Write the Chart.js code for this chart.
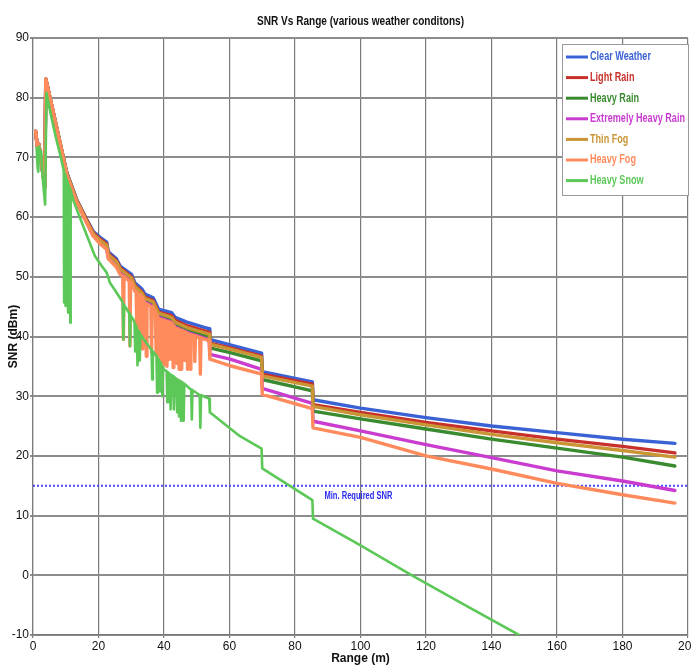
<!DOCTYPE html>
<html>
<head>
<meta charset="utf-8">
<title>SNR Vs Range</title>
<script src="https://cdn.jsdelivr.net/npm/chart.js@4.4.1/dist/chart.umd.min.js"></script>
<style>
  html, body { margin: 0; padding: 0; background: #fff; }
  #wrap { width: 691px; height: 668px; }
</style>
</head>
<body>
<div id="wrap"><canvas id="chart" width="691" height="668"></canvas></div>
<script>
const ctx = document.getElementById("chart");
const narrow = '"Liberation Sans Narrow", "Liberation Sans", Arial, sans-serif';

// shared range points (m) for the smooth curves
const rangeM = [0.8, 1.3, 1.8, 2.6, 3.6, 3.9, 6.0, 8.2, 9.6, 10.3, 13.3, 16.4, 18.4, 20.5, 22.5, 23.0, 25.5, 26.6, 30.1, 31.1, 33.2, 34.2, 36.7, 38.3, 42.3, 43.4, 47.0, 52.5, 53.8, 54.0, 60.2, 69.8, 70.0, 85.3, 85.5, 100, 120, 140, 160, 180, 196];

const clearWeather = [74.4, 71.9, 72.2, 69.0, 65.0, 83.1, 78.0, 72.6, 69.2, 67.5, 63.0, 59.6, 57.6, 56.6, 55.8, 54.2, 53.0, 51.8, 50.4, 49.0, 48.0, 47.1, 46.5, 44.6, 44.0, 43.2, 42.4, 41.5, 41.3, 39.5, 38.6, 37.2, 34.1, 32.4, 29.4, 28.0, 26.4, 25.0, 23.9, 22.8, 22.1];
const lightRain = [74.4, 71.9, 72.2, 69.0, 65.0, 83.1, 78.0, 72.6, 69.1, 67.4, 62.9, 59.5, 57.4, 56.3, 55.5, 53.9, 52.7, 51.5, 50.0, 48.6, 47.5, 46.6, 46.0, 44.1, 43.5, 42.7, 41.8, 40.9, 40.7, 38.9, 38.1, 36.7, 33.7, 32.0, 28.6, 27.3, 25.6, 24.2, 22.8, 21.6, 20.5];
const heavyRain = [74.4, 71.9, 72.2, 69.0, 65.0, 83.1, 78.0, 72.5, 69.0, 67.2, 62.7, 59.2, 57.0, 55.9, 55.0, 53.4, 52.2, 51.0, 49.5, 48.1, 47.0, 46.0, 45.4, 43.5, 42.8, 42.0, 41.1, 40.1, 39.9, 38.1, 37.3, 35.9, 32.8, 30.9, 27.5, 26.2, 24.5, 22.8, 21.3, 19.8, 18.3];
const extHeavyRain = [74.4, 71.9, 72.2, 69.0, 65.0, 83.1, 78.0, 72.5, 68.9, 67.1, 62.6, 59.1, 56.9, 55.7, 54.8, 53.2, 51.9, 50.7, 49.2, 47.8, 46.7, 45.7, 45.1, 43.2, 42.4, 41.6, 40.7, 39.7, 39.5, 37.0, 36.2, 34.5, 31.3, 28.8, 25.8, 24.2, 21.9, 19.7, 17.5, 15.8, 14.2];
const thinFog = [74.4, 71.9, 72.2, 69.0, 65.0, 83.1, 78.0, 72.6, 69.1, 67.3, 62.8, 59.3, 57.2, 56.1, 55.3, 53.7, 52.5, 51.3, 49.8, 48.4, 47.3, 46.4, 45.8, 43.9, 43.2, 42.4, 41.5, 40.6, 40.4, 38.7, 37.9, 36.5, 33.4, 31.7, 28.3, 26.9, 25.2, 23.6, 22.2, 20.9, 19.8];

// heavy fog and heavy snow have dropouts, so they keep their own [range, snr] points
const heavyFog = [
  [0.8, 74.4], [1.3, 71.9], [1.8, 72.2], [2.6, 69.0], [3.6, 65.0], [3.9, 83.1], [6.0, 78.0], [8.2, 72.4],
  [9.6, 68.9], [10.3, 67.0], [13.3, 62.5], [16.4, 59.0], [18.4, 56.8], [20.5, 55.5], [22.5, 54.6], [23.0, 53.0],
  [25.5, 51.6], [26.6, 50.4], [27.4, 50.1], [27.6, 39.5], [27.8, 50.0], [29.4, 49.3], [29.6, 38.4], [29.8, 49.2],
  [30.1, 49.0], [31.1, 47.6], [31.5, 47.4], [31.7, 41.2], [31.9, 47.3], [32.5, 47.0], [32.7, 41.0], [32.9, 46.9],
  [33.2, 46.5], [33.3, 46.4], [33.5, 37.9], [33.7, 46.2], [34.2, 45.5], [34.4, 45.4], [34.6, 36.7], [34.8, 45.4],
  [36.0, 45.0], [36.2, 37.3], [36.4, 45.0], [36.7, 44.9], [37.4, 44.0], [37.6, 36.8], [37.8, 43.7], [38.3, 43.0],
  [38.6, 42.9], [38.8, 36.5], [38.9, 42.9], [39.1, 42.8], [39.3, 35.7], [39.5, 42.8], [39.8, 42.7], [40.0, 35.3],
  [40.2, 42.7], [40.7, 42.5], [40.9, 35.0], [41.1, 42.5], [41.4, 42.4], [41.6, 36.2], [41.8, 42.4], [42.3, 42.2],
  [42.6, 41.9], [42.8, 34.8], [43.0, 41.8], [43.4, 41.4], [43.8, 41.3], [44.0, 35.5], [44.2, 41.3], [44.4, 41.2],
  [44.6, 34.5], [44.8, 41.1], [45.2, 41.0], [45.4, 34.5], [45.6, 41.0], [46.0, 40.8], [46.2, 36.0], [46.4, 40.8],
  [47.0, 40.5], [47.2, 34.5], [47.4, 40.5], [47.8, 40.3], [48.0, 34.5], [48.2, 40.3], [49.2, 40.1], [49.4, 35.8],
  [49.6, 40.1], [50.9, 39.8], [51.1, 33.7], [51.3, 39.8], [52.5, 39.5], [53.8, 39.3], [54.0, 36.2], [60.2, 35.1],
  [69.8, 33.7], [70.0, 30.3], [85.3, 27.9], [85.5, 24.7], [100, 23.1], [120, 20.0], [140, 17.8], [160, 15.4],
  [180, 13.5], [196, 12.1]
];

const heavySnow = [
  [1.1, 71.6], [1.4, 68.4], [1.6, 67.6], [1.9, 71.8], [2.2, 70.4], [2.5, 71.0], [2.8, 67.6], [3.7, 62.1],
  [4.1, 80.8], [5.5, 77.0], [7.0, 73.3], [8.5, 70.0], [9.3, 68.0], [9.4, 67.7], [9.5, 45.7], [9.6, 67.4],
  [9.8, 67.0], [9.9, 45.1], [10.0, 66.6], [10.2, 66.3], [10.3, 45.4], [10.4, 66.0], [10.6, 65.7], [10.7, 44.0],
  [10.8, 65.4], [11.2, 64.9], [11.4, 42.3], [11.5, 64.6], [12.3, 62.8], [14.9, 59.1], [16.9, 56.3], [18.9, 53.5],
  [21.0, 51.8], [22.5, 50.7], [23.5, 49.0], [25.0, 47.8], [27.1, 46.0], [27.4, 45.7], [27.6, 39.5], [27.8, 45.3],
  [29.4, 43.9], [29.6, 38.4], [29.8, 43.5], [30.6, 42.9], [31.0, 42.3], [31.2, 37.5], [31.4, 41.9], [31.7, 41.4],
  [31.9, 35.2], [32.1, 41.0], [32.4, 40.7], [32.6, 36.0], [32.8, 40.3], [35.7, 38.1], [36.2, 37.9], [36.4, 32.8],
  [36.6, 37.5], [37.7, 36.8], [37.9, 30.6], [38.1, 36.4], [38.6, 35.9], [38.8, 30.8], [39.0, 35.6], [39.3, 35.1],
  [39.5, 30.0], [39.7, 34.8], [39.8, 34.5], [40.8, 34.2], [41.0, 29.0], [41.2, 34.0], [41.8, 33.7], [42.0, 27.8],
  [42.2, 33.6], [42.8, 33.3], [43.0, 27.8], [43.2, 33.2], [43.8, 32.9], [44.0, 27.3], [44.2, 32.8], [44.4, 32.7],
  [44.6, 26.6], [44.8, 32.6], [45.0, 32.5], [45.2, 25.9], [45.4, 32.4], [45.8, 32.2], [46.0, 25.9], [46.2, 32.1],
  [48.0, 31.2], [48.3, 31.1], [48.5, 26.1], [48.7, 31.0], [50.9, 30.2], [51.1, 24.7], [51.3, 30.2], [52.0, 30.0],
  [53.8, 29.6], [54.0, 27.3], [60.2, 24.6], [63.2, 23.3], [69.8, 21.2], [70.0, 17.9], [85.3, 12.6], [85.5, 9.5],
  [100, 5.0], [115.7, 0.0], [130, -4.4], [148.4, -10.0]
];

const minRequiredSnr = 15;
const minLineRange = [0, 200];

const seriesNames = ["Clear Weather", "Light Rain", "Heavy Rain", "Extremely Heavy Rain", "Thin Fog", "Heavy Fog", "Heavy Snow"];
const seriesColors = ["#3a62d4", "#c8312b", "#3a8a30", "#c93ccf", "#c99535", "#ff8a5c", "#5cc858"];

function toPoints(xs, ys) {
  return xs.map((x, i) => ({ x: x, y: ys[i] }));
}
function pairsToPoints(pairs) {
  return pairs.map((p) => ({ x: p[0], y: p[1] }));
}

const seriesPoints = [
  toPoints(rangeM, clearWeather),
  toPoints(rangeM, lightRain),
  toPoints(rangeM, heavyRain),
  toPoints(rangeM, extHeavyRain),
  toPoints(rangeM, thinFog),
  pairsToPoints(heavyFog),
  pairsToPoints(heavySnow),
];

// title over the plot area, drawn by hand so it is centred on the grid
const topTitle = {
  id: "topTitle",
  afterDraw(chart) {
    const c = chart.ctx;
    const area = chart.chartArea;
    const txt = "SNR Vs Range (various weather conditons)";
    c.save();
    c.font = "bold 13px " + narrow;
    c.fillStyle = "#111";
    c.textAlign = "center";
    c.textBaseline = "middle";
    c.fillText(txt, (area.left + area.right) / 2, 21, Math.min(c.measureText(txt).width, 207));
    c.restore();
  },
};

// label for the dotted threshold line
const minLabel = {
  id: "minLabel",
  afterDatasetsDraw(chart) {
    const c = chart.ctx;
    const x = chart.scales.x.getPixelForValue(89);
    const y = chart.scales.y.getPixelForValue(13.3);
    const txt = "Min. Required SNR";
    c.save();
    c.font = "bold 11px " + narrow;
    c.fillStyle = "#2a2af0";
    c.textBaseline = "middle";
    c.fillText(txt, x, y, Math.min(c.measureText(txt).width, 68));
    c.restore();
  },
};

// boxed legend inside the top right corner, text in the series colour
const boxLegend = {
  id: "boxLegend",
  afterDraw(chart) {
    const c = chart.ctx;
    const area = chart.chartArea;
    const w = 127;
    const h = 152;
    const left = area.right - w + 1;
    const top = area.top + 6;
    c.save();
    c.fillStyle = "#fff";
    c.fillRect(left, top, w, h);
    c.strokeStyle = "#9a9a9a";
    c.lineWidth = 1;
    c.strokeRect(left + 0.5, top + 0.5, w - 1, h - 1);
    c.font = "bold 12px " + narrow;
    const squeeze = Math.min(1, 95 / c.measureText("Extremely Heavy Rain").width);
    c.textBaseline = "middle";
    seriesNames.forEach((name, i) => {
      const y = top + 13 + i * 20.6;
      c.strokeStyle = seriesColors[i];
      c.lineWidth = 3;
      c.beginPath();
      c.moveTo(left + 4, y);
      c.lineTo(left + 26, y);
      c.stroke();
      c.fillStyle = seriesColors[i];
      c.fillText(name, left + 28, y, c.measureText(name).width * squeeze);
    });
    c.restore();
  },
};

function createChart() {
  const datasets = seriesNames.map((name, i) => ({
    label: name,
    data: seriesPoints[i],
    borderColor: seriesColors[i],
    backgroundColor: seriesColors[i],
    borderWidth: i === 6 ? 2.6 : 3.4,
    borderJoinStyle: "round",
    borderCapStyle: "round",
    pointRadius: 0,
    showLine: true,
    tension: 0,
    order: 7 - i,
  }));
  datasets.push({
    label: "Min. Required SNR",
    data: minLineRange.map((x) => ({ x: x, y: minRequiredSnr })),
    borderColor: "#4646ff",
    borderWidth: 2,
    borderDash: [2, 2],
    pointRadius: 0,
    showLine: true,
    order: 20,
  });

  new Chart(ctx, {
    type: "scatter",
    data: { datasets: datasets },
    plugins: [topTitle, minLabel, boxLegend],
    options: {
      responsive: false,
      animation: false,
      events: [],
      layout: {
        padding: { top: 38, right: 3, left: 0, bottom: 0 },
      },
      scales: {
        x: {
          type: "linear",
          min: 0,
          max: 200,
          afterFit: (scale) => {
            scale.height = 33;
            scale.paddingLeft = 0;
            scale.paddingRight = 0;
          },
          grid: { color: "#7a7a7a", lineWidth: 1.2, tickLength: 3 },
          border: { color: "#7a7a7a", width: 1.2 },
          ticks: {
            stepSize: 20,
            autoSkip: false,
            maxRotation: 0,
            padding: 1,
            color: "#111",
            font: { family: narrow, size: 12 },
          },
          title: {
            display: true,
            text: "Range (m)",
            color: "#111",
            font: { family: narrow, size: 12, weight: "bold" },
            padding: { top: 0, bottom: 2 },
          },
        },
        y: {
          min: -10,
          max: 90,
          afterFit: (scale) => {
            scale.width = 33;
            scale.paddingTop = 0;
            scale.paddingBottom = 0;
          },
          grid: { color: "#8c8c8c", lineWidth: 2, tickLength: 3 },
          border: { color: "#7a7a7a", width: 1.2 },
          ticks: {
            stepSize: 10,
            autoSkip: false,
            padding: 1,
            color: "#111",
            font: { family: narrow, size: 12 },
          },
          title: {
            display: true,
            text: "SNR (dBm)",
            color: "#111",
            font: { family: narrow, size: 12, weight: "bold" },
            padding: { top: 6, bottom: 0 },
          },
        },
      },
      plugins: {
        legend: { display: false },
        tooltip: { enabled: false },
      },
    },
  });
}

createChart();
</script>
</body>
</html>
